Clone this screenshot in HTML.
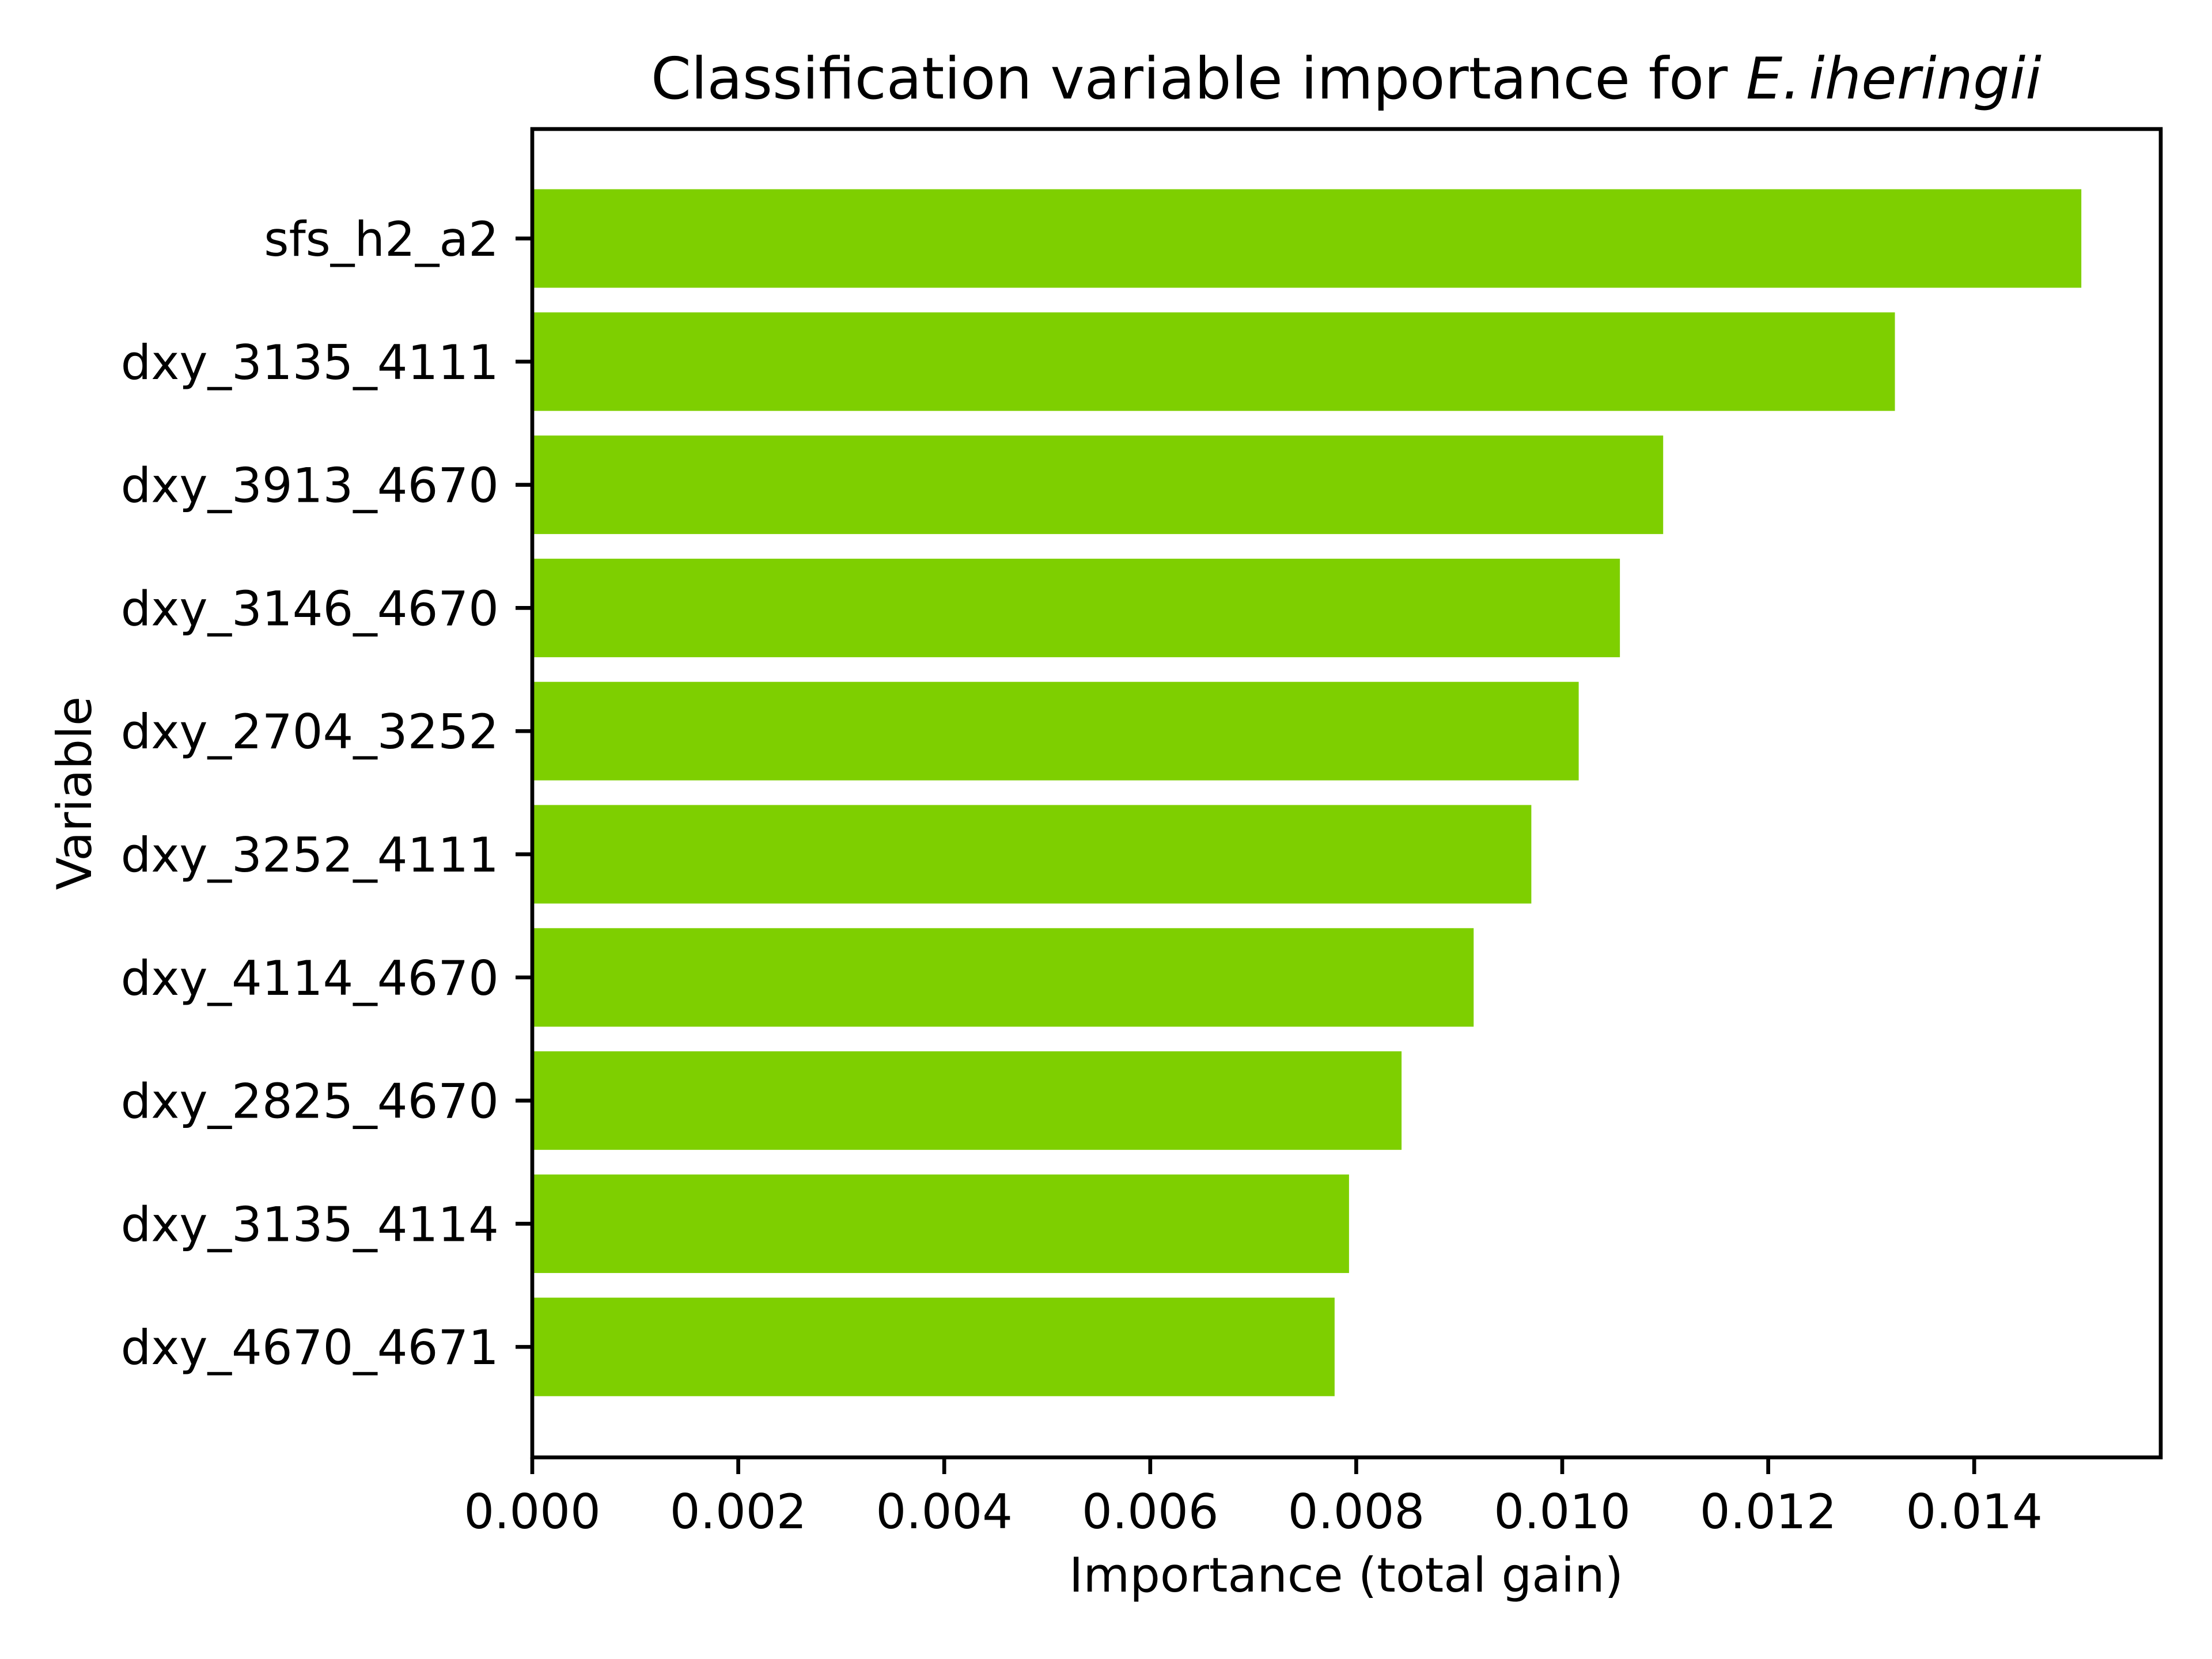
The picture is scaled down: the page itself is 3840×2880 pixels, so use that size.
<!DOCTYPE html>
<html><head><meta charset="utf-8"><style>
html,body{margin:0;padding:0;background:#fff;}
svg{display:block;}
text{font-family:"DejaVu Sans","Liberation Sans",sans-serif;fill:#000;}
</style></head><body>
<svg id="chart" width="3840" height="2880" viewBox="0 0 3840 2880" xmlns="http://www.w3.org/2000/svg">
<rect width="3840" height="2880" fill="#fff"/>
<text x="2337" y="171" font-size="100" text-anchor="middle">Classification variable importance for <tspan font-style="italic">E.</tspan><tspan font-style="italic" dx="14">iheringii</tspan></text>
<g id="bars"></g>
<g id="yticks"></g>
<g id="xticks"></g>
<rect x="924" y="224" width="2827" height="2306" fill="none" stroke="#000" stroke-width="6.7"/>
<text x="2337" y="2763" font-size="83" text-anchor="middle">Importance (total gain)</text>
<text x="0" y="0" font-size="83" text-anchor="middle" transform="translate(158,1377) rotate(-90)">Variable</text>
</svg>
<script>
const categories = ["sfs_h2_a2","dxy_3135_4111","dxy_3913_4670","dxy_3146_4670","dxy_2704_3252","dxy_3252_4111","dxy_4114_4670","dxy_2825_4670","dxy_3135_4114","dxy_4670_4671"];
const values = [0.01504,0.01323,0.01098,0.01056,0.01016,0.00970,0.00914,0.00844,0.00793,0.00779];
const xTicks = [0,0.002,0.004,0.006,0.008,0.010,0.012,0.014];
const xTickLabels = ["0.000","0.002","0.004","0.006","0.008","0.010","0.012","0.014"];

const NS = "http://www.w3.org/2000/svg";
const X0 = 924, PXU = 178800;
const xs = v => X0 + v * PXU;
const Y0 = 414, STEP = 213.8;
const ys = i => Y0 + i * STEP;
const BH = 0.8 * STEP;

const gb = document.getElementById('bars');
const gy = document.getElementById('yticks');
const gx = document.getElementById('xticks');

categories.forEach((c, i) => {
  const r = document.createElementNS(NS, 'rect');
  r.setAttribute('x', xs(0));
  r.setAttribute('y', ys(i) - BH / 2);
  r.setAttribute('width', xs(values[i]) - xs(0));
  r.setAttribute('height', BH);
  r.setAttribute('fill', '#7ecf00');
  
  
  gb.appendChild(r);

  const t = document.createElementNS(NS, 'line');
  t.setAttribute('x1', X0 - 29); t.setAttribute('x2', X0);
  t.setAttribute('y1', ys(i)); t.setAttribute('y2', ys(i));
  t.setAttribute('stroke', '#000'); t.setAttribute('stroke-width', '6.7');
  
  
  gy.appendChild(t);

  const l = document.createElementNS(NS, 'text');
  l.setAttribute('x', X0 - 58);
  l.setAttribute('y', ys(i) + 30);
  l.setAttribute('font-size', '83');
  l.setAttribute('text-anchor', 'end');
  l.textContent = c;
  
  
  gy.appendChild(l);
});

xTicks.forEach((v, i) => {
  const t = document.createElementNS(NS, 'line');
  t.setAttribute('x1', xs(v)); t.setAttribute('x2', xs(v));
  t.setAttribute('y1', 2530); t.setAttribute('y2', 2559);
  t.setAttribute('stroke', '#000'); t.setAttribute('stroke-width', '6.7');
  
  
  gx.appendChild(t);

  const l = document.createElementNS(NS, 'text');
  l.setAttribute('x', xs(v));
  l.setAttribute('y', 2653);
  l.setAttribute('font-size', '83');
  l.setAttribute('text-anchor', 'middle');
  l.textContent = xTickLabels[i];
  
  
  gx.appendChild(l);
});
</script>
</body></html>
